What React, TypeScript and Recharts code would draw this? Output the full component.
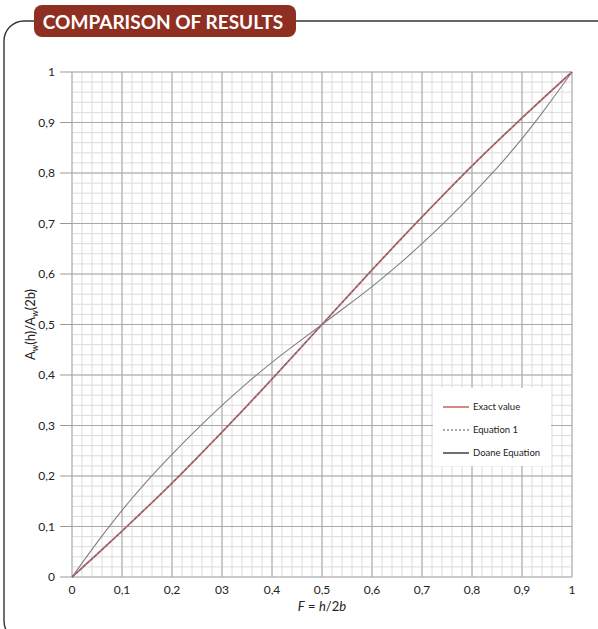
import React from 'react';
import { LineChart, Line, XAxis, YAxis, CartesianGrid, Legend } from 'recharts';

// ---- data ----
const fValues = [0, 0.05, 0.1, 0.15, 0.2, 0.25, 0.3, 0.35, 0.4, 0.45, 0.5, 0.55, 0.6, 0.65, 0.7, 0.75, 0.8, 0.85, 0.9, 0.95, 1];
const exactValue = [0, 0.045, 0.091, 0.138, 0.186, 0.236, 0.287, 0.339, 0.392, 0.446, 0.5, 0.554, 0.608, 0.661, 0.713, 0.764, 0.814, 0.862, 0.909, 0.955, 1];
const equation1 = [0, 0.045, 0.091, 0.138, 0.186, 0.236, 0.287, 0.339, 0.392, 0.446, 0.5, 0.554, 0.608, 0.661, 0.713, 0.764, 0.814, 0.862, 0.909, 0.955, 1];
const doaneEquation = [0, 0.068, 0.132, 0.19, 0.243, 0.293, 0.34, 0.384, 0.425, 0.463, 0.5, 0.537, 0.575, 0.616, 0.66, 0.707, 0.757, 0.81, 0.868, 0.932, 1];

const xTicks = [0, 0.1, 0.2, 0.3, 0.4, 0.5, 0.6, 0.7, 0.8, 0.9, 1];
const xTickLabels = ['0', '0,1', '0,2', '03', '0,4', '0,5', '0,6', '0,7', '0,8', '0,9', '1'];
const yTicks = [0, 0.1, 0.2, 0.3, 0.4, 0.5, 0.6, 0.7, 0.8, 0.9, 1];
const yTickLabels = ['0', '0,1', '0,2', '0,3', '0,4', '0,5', '0,6', '0,7', '0,8', '0,9', '1'];

const seriesNames = { exact: 'Exact value', eq1: 'Equation 1', doane: 'Doane Equation' };
const title = 'COMPARISON OF RESULTS';

const data = fValues.map((f, i) => ({
  f,
  exact: exactValue[i],
  eq1: equation1[i],
  doane: doaneEquation[i],
}));

const minorLines: number[] = [];
for (let i = 0; i <= 50; i++) minorLines.push(Math.round(i * 2) / 100);

const FONT = 'Lato, "Open Sans", sans-serif';

const legendItems = [
  { name: seriesNames.exact, color: '#c0392b', dash: undefined as string | undefined },
  { name: seriesNames.eq1, color: '#555', dash: '2 2' },
  { name: seriesNames.doane, color: '#111', dash: undefined as string | undefined },
];

const renderLegend = () => (
  <div style={{ background: '#fff', width: 118, height: 78, boxSizing: 'border-box', paddingTop: 12, paddingLeft: 10 }}>
    {legendItems.map((it) => (
      <div key={it.name} style={{ display: 'flex', alignItems: 'center', height: 23, marginTop: -5, marginBottom: 5 }}>
        <svg width={26} height={4} style={{ marginRight: 4 }}>
          <line x1={0} y1={2} x2={26} y2={2} stroke={it.color} strokeWidth={1.2} strokeDasharray={it.dash} />
        </svg>
        <span style={{ fontFamily: FONT, fontSize: 9.5, color: '#222' }}>{it.name}</span>
      </div>
    ))}
  </div>
);

const XLabel = (props: any) => {
  const vb = props.viewBox || {};
  return (
    <text x={vb.x + vb.width / 2} y={611} textAnchor="middle" fontFamily={FONT} fontSize={13} fill="#222">
      <tspan fontStyle="italic">F</tspan> = <tspan fontStyle="italic">h</tspan>/2<tspan fontStyle="italic">b</tspan>
    </text>
  );
};

const YLabel = (props: any) => {
  const vb = props.viewBox || {};
  const cx = 35;
  const cy = vb.y + vb.height / 2;
  return (
    <text x={cx} y={cy} textAnchor="middle" transform={`rotate(-90 ${cx} ${cy})`} fontFamily={FONT} fontSize={13} fill="#222">
      A<tspan fontSize={9} dy={3} fontStyle="italic">w</tspan>
      <tspan dy={-3}>(h)/A</tspan>
      <tspan fontSize={9} dy={3} fontStyle="italic">w</tspan>
      <tspan dy={-3}>(2b)</tspan>
    </text>
  );
};

export default function App() {
  return (
    <div style={{ position: 'absolute', left: 0, top: 0, width: 598, height: 629, background: '#fff', overflow: 'hidden' }}>
      <svg width={598} height={629} style={{ position: 'absolute', left: 0, top: 0 }}>
        <rect x={4} y={21} width={640} height={620} rx={20} ry={20} fill="none" stroke="#333" strokeWidth={1.4} />
        <rect x={34} y={5} width={262} height={32} rx={8} ry={8} fill="#8e2f22" />
        <text x={163} y={28.5} textAnchor="middle" fontFamily={FONT} fontWeight={700} fontSize={19} fill="#fff">
          {title}
        </text>
      </svg>
      <div style={{ position: 'absolute', left: 0, top: 0 }}>
        <LineChart width={598} height={629} data={data} margin={{ top: 72, right: 26, bottom: 0, left: 0 }}>
          <CartesianGrid stroke="#dcdcdc" strokeWidth={1} horizontalValues={minorLines} verticalValues={minorLines} />
          <CartesianGrid stroke="#a8a8a8" strokeWidth={1} horizontalValues={yTicks} verticalValues={xTicks} />
          <XAxis
            dataKey="f"
            type="number"
            domain={[0, 1]}
            ticks={xTicks}
            tickFormatter={(v: number) => xTickLabels[xTicks.indexOf(v)] ?? ''}
            height={52}
            tickLine={false}
            axisLine={false}
            tickSize={0}
            tickMargin={8}
            interval={0}
            tick={{ fontFamily: FONT, fontSize: 12, fill: '#222' }}
            label={<XLabel />}
          />
          <YAxis
            type="number"
            domain={[0, 1]}
            ticks={yTicks}
            tickFormatter={(v: number) => yTickLabels[yTicks.indexOf(v)] ?? ''}
            width={72}
            axisLine={false}
            tickLine={{ stroke: '#999' }}
            tickSize={12}
            tickMargin={5}
            interval={0}
            tick={{ fontFamily: FONT, fontSize: 12, fill: '#222' }}
            label={<YLabel />}
          />
          <Line type="natural" dataKey="doane" name={seriesNames.doane} stroke="#808080" strokeWidth={1.1} dot={false} isAnimationActive={false} />
          <Line type="natural" dataKey="exact" name={seriesNames.exact} stroke="#c76a72" strokeWidth={1.8} dot={false} isAnimationActive={false} />
          <Line type="natural" dataKey="eq1" name={seriesNames.eq1} stroke="#6a6a6a" strokeWidth={1.1} strokeDasharray="3 2" dot={false} isAnimationActive={false} />
          <Legend
            layout="horizontal"
            align="center"
            verticalAlign="middle"
            content={renderLegend}
            wrapperStyle={{ position: 'absolute', left: 433, top: 388, width: 118, height: 78 }}
          />
        </LineChart>
      </div>
    </div>
  );
}
